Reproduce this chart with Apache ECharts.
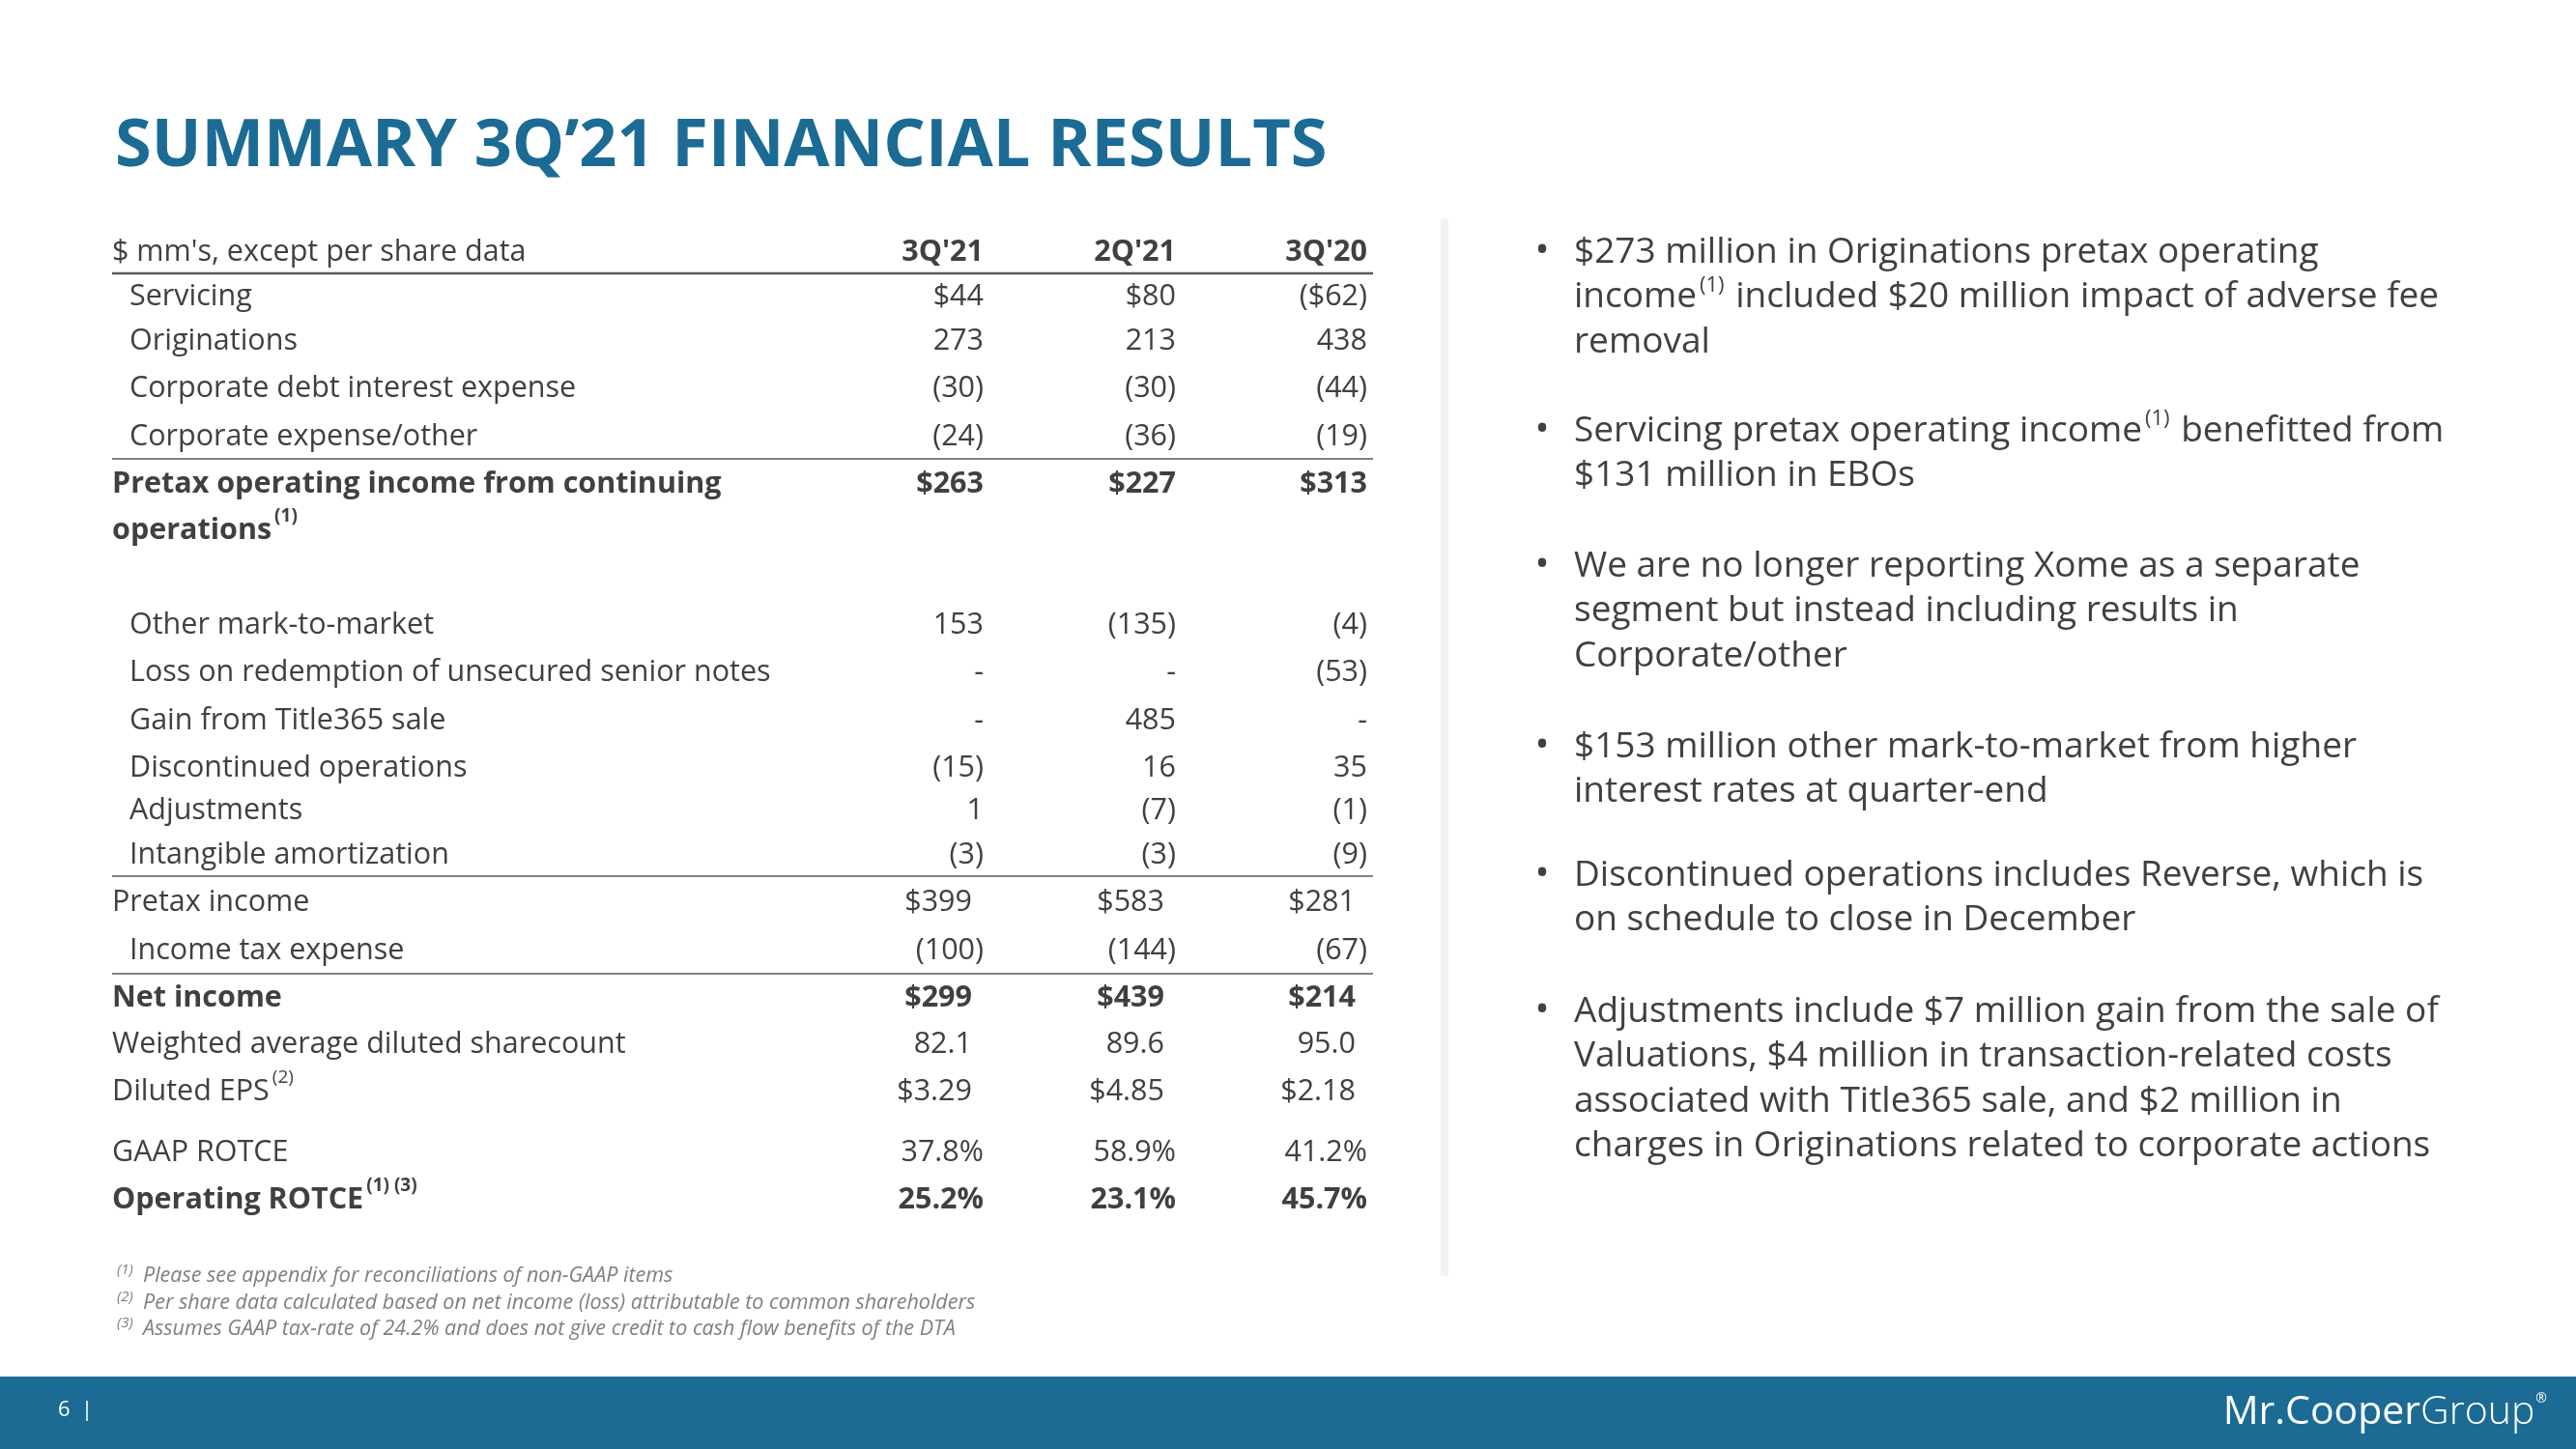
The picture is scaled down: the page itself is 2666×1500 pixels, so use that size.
<!DOCTYPE html>
<html lang="en">
<head>
    <meta charset="UTF-8">
    <script type="text/javascript" src="https://cdn.jsdelivr.net/npm/echarts@6.0.0/dist/echarts.min.js"></script>
    <title>Summary 3Q'21 financial results</title>
    <style>
        html, body { margin: 0; padding: 0; background: #fff; }
        #chart { width: 2666px; height: 1500px; }
    </style>
</head>
<body>
    <div id="chart"></div>
    <script>
        // table data
        const columns = ["3Q'21", "2Q'21", "3Q'20"];
        const rowLabels = [
            'Servicing', 'Originations', 'Corporate debt interest expense', 'Corporate expense/other',
            'Pretax operating income from continuing\noperations{sb|(1)}',
            'Other mark-to-market', 'Loss on redemption of unsecured senior notes', 'Gain from Title365 sale',
            'Discontinued operations', 'Adjustments', 'Intangible amortization',
            'Pretax income', 'Income tax expense', 'Net income',
            'Weighted average diluted sharecount', 'Diluted EPS{s|(2)}',
            'GAAP ROTCE', 'Operating ROTCE{sb|(1) (3)}'
        ];
        const values3Q21 = ['$44', '273', '(30)', '(24)', '$263', '153', '-', '-', '(15)', '1', '(3)', '$399', '(100)', '$299', '82.1', '$3.29', '37.8%', '25.2%'];
        const values2Q21 = ['$80', '213', '(30)', '(36)', '$227', '(135)', '-', '485', '16', '(7)', '(3)', '$583', '(144)', '$439', '89.6', '$4.85', '58.9%', '23.1%'];
        const values3Q20 = ['($62)', '438', '(44)', '(19)', '$313', '(4)', '(53)', '-', '35', '(1)', '(9)', '$281', '(67)', '$214', '95.0', '$2.18', '41.2%', '45.7%'];
        const boldRows = [4, 13, 17];
        const indentRows = [0, 1, 2, 3, 5, 6, 7, 8, 9, 10, 12];
        const paddedRows = [11, 13, 14, 15];

        const bullets = [
            ['$273 million in Originations pretax operating', 'income{s|(1)} included $20 million impact of adverse fee', 'removal'],
            ['Servicing pretax operating income{s|(1)} benefitted from', '$131 million in EBOs'],
            ['We are no longer reporting Xome as a separate', 'segment but instead including results in', 'Corporate/other'],
            ['$153 million other mark-to-market from higher', 'interest rates at quarter-end'],
            ['Discontinued operations includes Reverse, which is', 'on schedule to close in December'],
            ['Adjustments include $7 million gain from the sale of', 'Valuations, $4 million in transaction-related costs', 'associated with Title365 sale, and $2 million in', 'charges in Originations related to corporate actions']
        ];
        const footnotes = [
            ['(1)', 'Please see appendix for reconciliations of non-GAAP items'],
            ['(2)', 'Per share data calculated based on net income (loss) attributable to common shareholders'],
            ['(3)', 'Assumes GAAP tax-rate of 24.2% and does not give credit to cash flow benefits of the DTA']
        ];

        // layout
        const FONT = '"Open Sans", "Noto Sans", sans-serif';
        const TEXT = '#404040';
        const BLUE = '#1b6b94';
        const tableLeft = 116;
        const indent = 18;
        const colRight = [1018, 1217, 1415];
        const headerY = 261;
        const rowY = [307, 353, 402, 452, 501, 647, 696, 746, 795, 839, 885, 934, 984, 1033, 1081, 1130, 1193, 1242];
        const ruleY = [283, 475, 907, 1008];
        const bulletY = [261, 446, 586, 773, 906, 1047];
        const bulletLineH = 46.5;

        const rich = {
            s: { fontSize: 19, fontFamily: FONT, fill: TEXT, verticalAlign: 'top', padding: [0, 0, 12, 3] },
            sb: { fontSize: 19, fontFamily: FONT, fill: TEXT, fontWeight: 'bold', verticalAlign: 'top', padding: [0, 0, 12, 3] }
        };

        const elements = [];
        const txt = (x, y, text, st) => elements.push({
            type: 'text', x: x, y: y, silent: true,
            style: Object.assign({ text: text, fontFamily: FONT, fontSize: 30.5, fill: TEXT, verticalAlign: 'middle', align: 'left' }, st)
        });

        // title
        txt(119, 152, "SUMMARY 3Q’21 FINANCIAL RESULTS", { fontSize: 68.5, fontWeight: 'bold', fill: BLUE });

        // table header
        txt(tableLeft, headerY, "$ mm's, except per share data", {});
        columns.forEach((c, i) => txt(colRight[i], headerY, c, { align: 'right', fontWeight: 'bold' }));

        // table rows
        const cols = [values3Q21, values2Q21, values3Q20];
        rowLabels.forEach((label, r) => {
            const bold = boldRows.includes(r);
            const x = tableLeft + (indentRows.includes(r) ? indent : 0);
            const multi = label.indexOf('\n') >= 0;
            txt(x, rowY[r], label, {
                fontWeight: bold ? 'bold' : 'normal',
                verticalAlign: multi ? 'top' : 'middle',
                lineHeight: 48,
                rich: rich,
                y: multi ? -24 : 0
            });
            cols.forEach((vals, c) => {
                txt(colRight[c] - (paddedRows.includes(r) ? 12 : 0), rowY[r], vals[r], {
                    align: 'right', fontWeight: bold ? 'bold' : 'normal'
                });
            });
        });

        // rules
        ruleY.forEach((y, i) => elements.push({
            type: 'line', silent: true,
            shape: { x1: tableLeft, y1: y, x2: 1421, y2: y },
            style: { stroke: '#595959', lineWidth: i === 0 ? 2.5 : 1.5 }
        }));

        // footnotes
        footnotes.forEach((f, i) => {
            const y = 1321 + i * 27.5;
            txt(121, y - 6, f[0], { fontSize: 15, fontStyle: 'italic', fill: '#7f7f7f' });
            txt(148, y, f[1], { fontSize: 21.5, fontStyle: 'italic', fill: '#7f7f7f' });
        });

        // separator
        elements.push({ type: 'rect', silent: true, shape: { x: 1491, y: 226, width: 8, height: 1095 }, style: { fill: '#f2f2f2' } });

        // bullets
        bullets.forEach((lines, b) => {
            txt(1596, bulletY[b], '•', { fontSize: 40, align: 'center' , x: 0});
            txt(1629, bulletY[b] - bulletLineH / 2, lines.join('\n'), {
                fontSize: 37, verticalAlign: 'top', lineHeight: bulletLineH,
                rich: {
                    s: { fontSize: 22, fontFamily: FONT, fill: TEXT, verticalAlign: 'top', padding: [0, 2, 14, 3] }
                }
            });
        });

        // footer
        elements.push({ type: 'rect', silent: true, shape: { x: 0, y: 1425, width: 2666, height: 75 }, style: { fill: BLUE } });
        txt(60, 1460, '6  |', { fontSize: 22, fill: '#ffffff' });
        txt(2636, 1462, '{b|Mr.Cooper}{l|Group}{r|®}', {
            align: 'right', fill: '#ffffff',
            rich: {
                b: { fontSize: 41, fontFamily: FONT, fill: '#ffffff', fontWeight: 500 },
                l: { fontSize: 41, fontFamily: FONT, fill: '#ffffff', fontWeight: 300 },
                r: { fontSize: 14, fontFamily: FONT, fill: '#ffffff', verticalAlign: 'top', padding: [0, 0, 20, 1] }
            }
        });

        const chart = echarts.init(document.getElementById('chart'), null, { renderer: 'canvas' });
        chart.setOption({
            backgroundColor: '#ffffff',
            animation: false,
            graphic: { elements: elements }
        });
    </script>
</body>
</html>
